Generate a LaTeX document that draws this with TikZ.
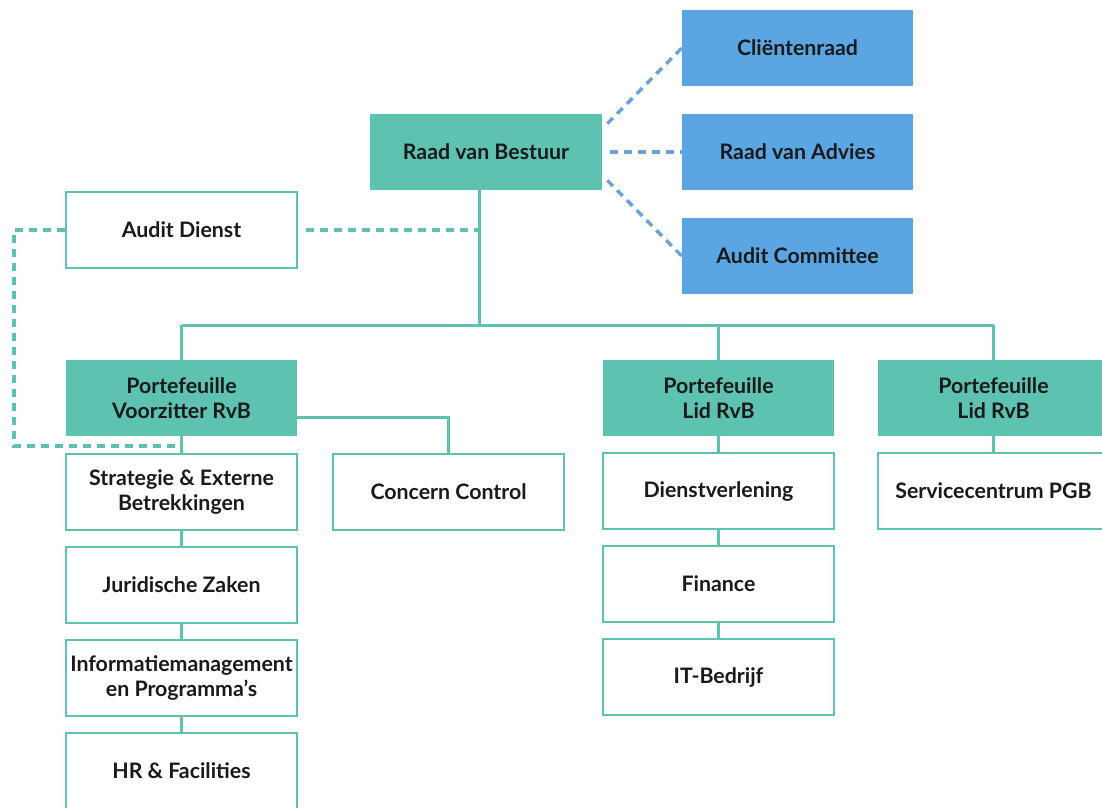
\documentclass[tikz,border=0pt]{standalone}
\usepackage{fontspec}
\setmainfont{Lato}
\usetikzlibrary{positioning}
\definecolor{teal1}{HTML}{5EC2B1}
\definecolor{blue1}{HTML}{5CA5E3}
\definecolor{bluedash}{HTML}{6DA3D8}
\definecolor{txt}{HTML}{1A1A1A}
\tikzset{
  base/.style={minimum width=173.25pt, minimum height=57pt, inner sep=0pt, align=center,
    text=txt, font=\fontsize{16}{18.75}\selectfont\bfseries},
  tealbox/.style={base, fill=teal1},
  bluebox/.style={base, fill=blue1},
  whitebox/.style={base, draw=teal1, line width=1.5pt, fill=white},
  conn/.style={draw=teal1, line width=2.25pt},
  tdash/.style={draw=teal1, line width=2.6pt, dash pattern=on 6pt off 4.5pt},
  bdash/.style={draw=bluedash, line width=2.6pt, dash pattern=on 6pt off 4.5pt},
}
\begin{document}
\begin{tikzpicture}[x=0.75pt,y=-0.75pt]
\useasboundingbox[fill=white] (0,0) rectangle (1102,807);
% nodes
\node[tealbox, minimum width=174pt] (rvb) at (486,152) {Raad van Bestuur};
\node[bluebox] (cr) at (797.5,48) {Cliëntenraad};
\node[bluebox] (ra) at (797.5,152) {Raad van Advies};
\node[bluebox] (ac) at (797.5,256) {Audit Committee};
\node[whitebox] (ad) at (181.5,230) {Audit Dienst};
\node[tealbox] (pv) at (181.5,398) {Portefeuille\\Voorzitter RvB};
\node[tealbox] (pl1) at (718.5,398) {Portefeuille\\Lid RvB};
\node[tealbox] (pl2) at (993.5,398) {Portefeuille\\Lid RvB};
\node[whitebox] (se) at (181.5,492) {Strategie \& Externe\\Betrekkingen};
\node[whitebox] (cc) at (448.5,492) {Concern Control};
\node[whitebox] (jz) at (181.5,585) {Juridische Zaken};
\node[whitebox] (im) at (181.5,678) {Informatiemanagement\\en Programma’s};
\node[whitebox] (hr) at (181.5,771) {HR \& Facilities};
\node[whitebox] (dv) at (718.5,491) {Dienstverlening};
\node[whitebox] (fi) at (718.5,584) {Finance};
\node[whitebox] (it) at (718.5,677) {IT-Bedrijf};
\node[whitebox] (sc) at (993.5,491) {Servicecentrum PGB};
\coordinate (bus) at (479,325);
\coordinate (dl) at (14,446);
% solid connectors
\draw[conn] (rvb.south -| bus) -- (bus);
\draw[conn] (bus -| pv.north) -- (bus -| pl2.north);
\draw[conn] (bus -| pv.north) -- (pv.north);
\draw[conn] (bus -| pl1.north) -- (pl1.north);
\draw[conn] (bus -| pl2.north) -- (pl2.north);
\draw[conn] (pv.south) -- (se.north);
\draw[conn] (se.south) -- (jz.north);
\draw[conn] (jz.south) -- (im.north);
\draw[conn] (im.south) -- (hr.north);
\draw[conn] ([yshift=-14.25pt]pv.east) -| (cc.north);
\draw[conn] (pl1.south) -- (dv.north);
\draw[conn] (dv.south) -- (fi.north);
\draw[conn] (fi.south) -- (it.north);
\draw[conn] (pl2.south) -- (sc.north);
% dashed connectors
\draw[tdash] ([xshift=6pt]ad.east) -- (ad.east -| bus);
\draw[tdash] (ad.west) -| (dl) -- (dl -| pv.south);
\draw[bdash] ([shift={(5,10)}]rvb.north east) -- (cr.west);
\draw[bdash] ([xshift=6pt]rvb.east) -- (ra.west);
\draw[bdash] ([shift={(5,-10)}]rvb.south east) -- (ac.west);
\end{tikzpicture}
\end{document}
